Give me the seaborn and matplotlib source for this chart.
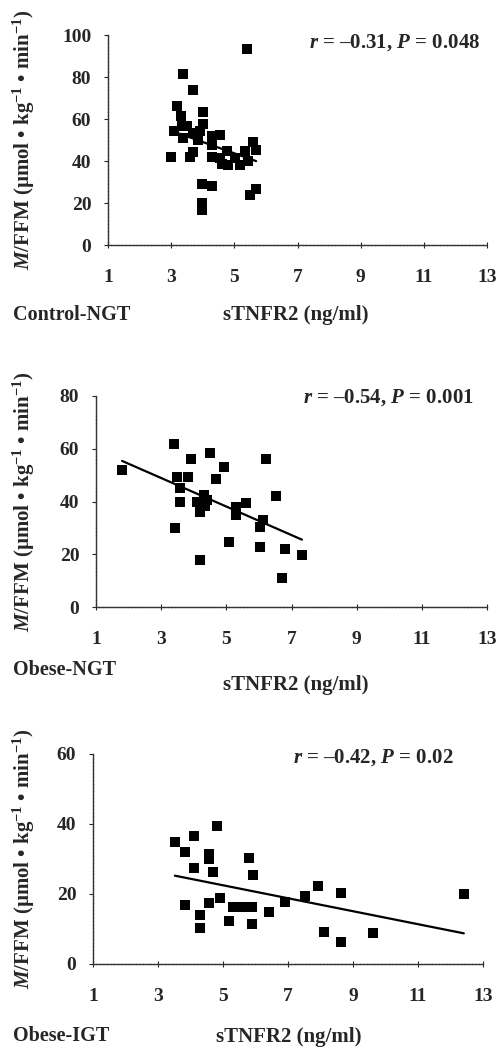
import matplotlib
matplotlib.use("Agg")
import matplotlib.pyplot as plt
import pandas as pd
import seaborn as sns

# Control-NGT
ctrl_x = [3.39, 3.69, 3.20, 3.31, 4.02, 4.00, 3.09, 3.34, 3.50, 3.39, 3.70, 3.92, 3.86,
          4.29, 4.55, 4.29, 2.99, 3.60, 3.69, 4.29, 4.55, 4.76, 4.60, 4.81, 5.02, 5.18,
          5.34, 5.44, 5.58, 5.69, 3.97, 4.29, 3.97, 3.97, 5.50, 5.69, 5.39]
ctrl_y = [81.2, 73.6, 66.4, 61.6, 63.2, 57.8, 54.5, 56.5, 56.9, 51.0, 53.4, 54.1, 50.2,
          52.1, 52.6, 47.8, 41.9, 41.9, 44.1, 41.9, 41.4, 44.6, 38.7, 38.2, 41.4, 38.2,
          45.0, 39.8, 48.9, 45.4, 29.1, 28.2, 19.9, 16.7, 23.9, 26.6, 93.2]

# Obese-NGT
ongt_x = [1.80, 3.38, 3.91, 4.51, 4.92, 4.69, 3.50, 3.82, 3.59, 3.57, 4.10, 4.30, 4.42,
          4.35, 4.20, 3.43, 4.20, 5.07, 5.30, 5.30, 5.61, 6.11, 6.04, 6.02, 6.21, 6.52,
          6.81, 6.70, 7.32]
ongt_y = [52.1, 61.7, 56.3, 58.2, 53.1, 48.7, 49.3, 49.3, 45.0, 39.9, 39.9, 42.4, 40.5,
          38.3, 36.1, 29.8, 17.9, 24.8, 38.0, 34.9, 39.3, 33.0, 30.5, 22.9, 56.3, 42.2,
          21.9, 11.0, 19.8]

# Obese-IGT
oigt_x = [3.52, 3.83, 4.10, 4.10, 3.83, 4.29, 4.29, 4.57, 4.57, 4.70, 4.80, 4.57, 4.90,
          5.19, 5.32, 5.60, 5.81, 5.91, 5.90, 5.88, 6.40, 6.91, 7.51, 7.92, 8.11, 8.63,
          8.63, 9.63, 12.41]
oigt_y = [35.0, 32.1, 36.7, 27.5, 17.0, 14.0, 10.2, 31.3, 29.9, 26.2, 39.5, 17.3, 19.0,
          12.4, 16.2, 16.4, 30.2, 25.4, 16.2, 11.3, 15.0, 17.6, 19.5, 22.4, 9.2, 20.2,
          6.2, 8.8, 19.9]

groups = ["Control-NGT", "Obese-NGT", "Obese-IGT"]
stats = ["$r$ = \u20130.31, $P$ = 0.048",
         "$r$ = \u20130.54, $P$ = 0.001",
         "$r$ = \u20130.42, $P$ = 0.02"]
y_max = [100, 80, 60]
x_ticks = [1, 3, 5, 7, 9, 11, 13]

sns.set_style("white")
plt.rcParams["font.family"] = ["Liberation Serif", "DejaVu Serif"]
plt.rcParams["font.weight"] = "bold"
plt.rcParams["mathtext.fontset"] = "custom"
plt.rcParams["mathtext.rm"] = "Liberation Serif:bold"
plt.rcParams["mathtext.bf"] = "Liberation Serif:bold"
plt.rcParams["mathtext.it"] = "Liberation Serif:italic:bold"

fig = plt.figure(figsize=(4.98, 10.47), dpi=100)
W, H = 498, 1047

# axes boxes in pixels: left, top(ymax), right, bottom(y=0)
boxes = [(108, 35, 487, 245), (96, 396, 487, 607), (93, 754, 483, 964)]
# pixel positions for the group/xlabel texts and stats anchor
label_y = [315, 670, 1036]
xlabel_y = [315, 685, 1037]
xlabel_x = [296, 296, 289]
stat_pos = [(12.8, 96.5), (12.6, 79.5), (12.1, 59)]

data = [(ctrl_x, ctrl_y), (ongt_x, ongt_y), (oigt_x, oigt_y)]

for i, ((xs, ys), (l, t, r, b)) in enumerate(zip(data, boxes)):
    ax = fig.add_axes([l / W, 1 - b / H, (r - l) / W, (b - t) / H])
    df = pd.DataFrame({"x": xs, "y": ys})
    sns.scatterplot(data=df, x="x", y="y", marker="s", s=42, color="black",
                    edgecolor="black", linewidth=0, ax=ax)
    sns.regplot(data=df, x="x", y="y", scatter=False, ci=None, truncate=True,
                line_kws={"color": "black", "lw": 1.6}, ax=ax)
    ax.set_xlim(1, 13)
    ax.set_ylim(0, y_max[i])
    ax.set_xticks(x_ticks)
    ax.set_yticks(range(0, y_max[i] + 1, 20))
    for s in ["top", "right"]:
        ax.spines[s].set_visible(False)
    for s in ["left", "bottom"]:
        ax.spines[s].set_color("#333333")
        ax.spines[s].set_linewidth(1.0)
        ax.spines[s].set_linestyle((0, (2, 0.6)))
    ax.tick_params(axis="x", direction="inout", length=4, width=0.8, pad=15,
                   labelsize=14, bottom=True)
    ax.tick_params(axis="y", direction="out", length=3, width=0.8, pad=9,
                   labelsize=14, left=True)
    for lab in ax.get_xticklabels() + ax.get_yticklabels():
        lab.set_fontweight("bold")
    ax.set_xlabel("")
    ax.set_ylabel("$M$/FFM (\u00b5mol \u2022 kg$^{-1}$ \u2022 min$^{-1}$)",
                  fontsize=15, fontweight="bold")
    ax.yaxis.set_label_coords((37 - l) / (r - l), 0.5)
    ax.text(stat_pos[i][0], stat_pos[i][1], stats[i], ha="right", va="center",
            fontsize=15, fontweight="bold")
    fig.text(13 / W, 1 - label_y[i] / H, groups[i], ha="left", va="center",
             fontsize=14.5, fontweight="bold")
    fig.text(xlabel_x[i] / W, 1 - xlabel_y[i] / H, "sTNFR2 (ng/ml)", ha="center",
             va="center", fontsize=15, fontweight="bold")

fig.savefig("out.png", dpi=100)
